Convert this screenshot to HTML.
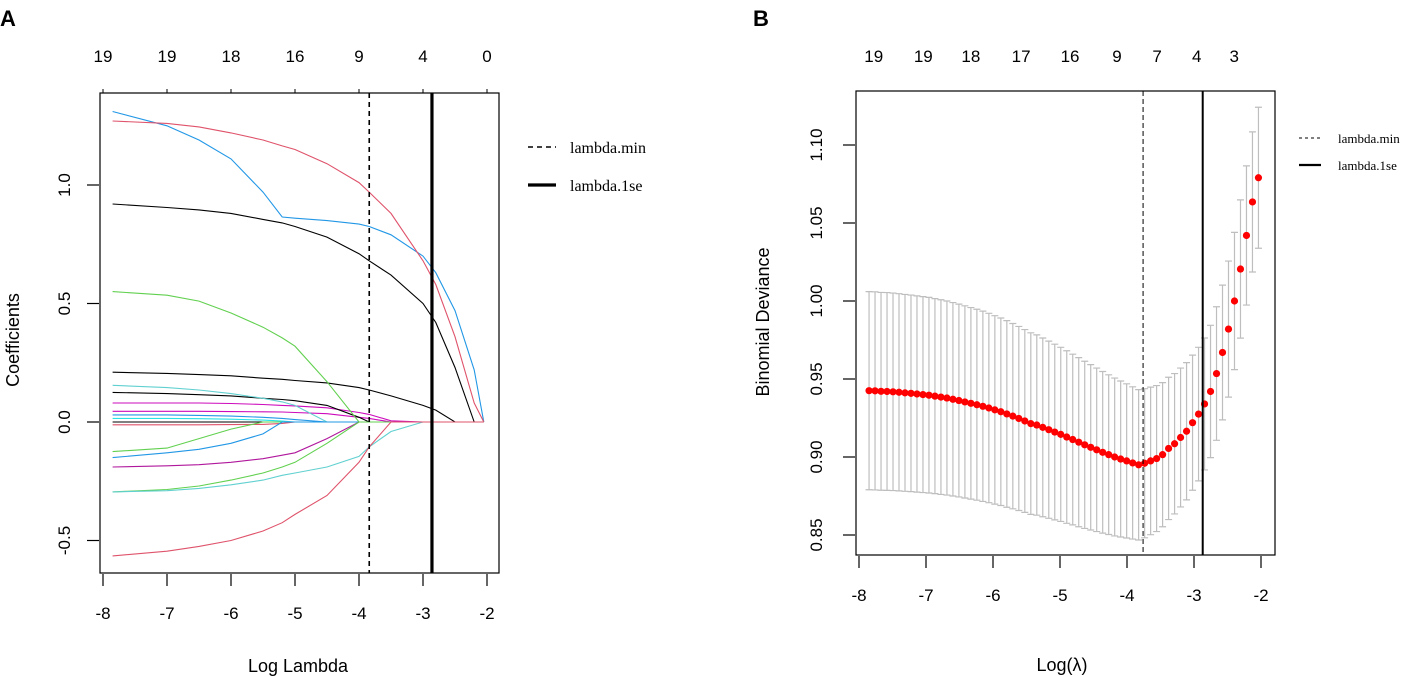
<!DOCTYPE html>
<html><head><meta charset="utf-8"><style>
html,body{margin:0;padding:0;background:#fff;}
svg{display:block;font-family:"Liberation Sans",Arial,sans-serif;}
</style></head><body>
<svg id="chart" width="1418" height="677" viewBox="0 0 1418 677" xmlns="http://www.w3.org/2000/svg">
<text x="0" y="26" font-size="22" font-weight="bold">A</text>
<text x="753" y="26" font-size="22" font-weight="bold">B</text>
<g id="pa"></g>
<g id="pb"></g>
</svg>
<script>
// ---------- Panel A data ----------
const pathLambda = [-7.85,-7,-6.5,-6,-5.5,-5.2,-5,-4.5,-4,-3.84,-3.5,-3,-2.8,-2.5,-2.2,-2.05];
const pathRed1   = [1.27,1.26,1.245,1.22,1.19,1.165,1.15,1.09,1.01,0.97,0.88,0.68,0.58,0.36,0.08,0];
const pathBlue1  = [1.31,1.25,1.19,1.11,0.97,0.865,0.86,0.85,0.835,0.825,0.79,0.70,0.63,0.47,0.22,0];
const pathBlack1 = [0.92,0.905,0.895,0.88,0.855,0.84,0.825,0.78,0.71,0.68,0.62,0.50,0.42,0.23,0,0];
const pathGreen1 = [0.55,0.535,0.51,0.46,0.40,0.355,0.32,0.17,0,0,0,0,0,0,0,0];
const pathBlack2 = [0.21,0.205,0.2,0.195,0.185,0.18,0.175,0.165,0.145,0.135,0.11,0.07,0.05,0,0,0];
const pathCyan1  = [0.155,0.145,0.135,0.12,0.10,0.085,0.07,0,0,0,0,0,0,0,0,0];
const pathBlack3 = [0.125,0.12,0.115,0.11,0.10,0.095,0.09,0.07,0.02,0,0,0,0,0,0,0];
const pathMag1   = [0.08,0.08,0.08,0.078,0.074,0.07,0.068,0.06,0.04,0.032,0.005,0,0,0,0,0];
const pathMag2   = [0.045,0.045,0.045,0.044,0.043,0.042,0.04,0.035,0.02,0.015,0,0,0,0,0,0];
const pathBlue2  = [0.03,0.03,0.028,0.025,0.02,0.015,0.01,0,0,0,0,0,0,0,0,0];
const pathCyan2  = [0.015,0.015,0.014,0.012,0.008,0.004,0,0,0,0,0,0,0,0,0,0];
const pathRed2   = [-0.012,-0.012,-0.012,-0.011,-0.01,-0.006,0,0,0,0,0,0,0,0,0,0];
const pathGreen2 = [-0.125,-0.11,-0.07,-0.03,0,0,0,0,0,0,0,0,0,0,0,0];
const pathBlue3  = [-0.15,-0.13,-0.115,-0.09,-0.05,0,0,0,0,0,0,0,0,0,0,0];
const pathMag3   = [-0.19,-0.185,-0.18,-0.17,-0.155,-0.14,-0.13,-0.07,0,0,0,0,0,0,0,0];
const pathGreen3 = [-0.295,-0.285,-0.27,-0.245,-0.215,-0.19,-0.17,-0.09,0,0,0,0,0,0,0,0];
const pathCyan3  = [-0.295,-0.29,-0.28,-0.265,-0.245,-0.225,-0.215,-0.19,-0.145,-0.105,-0.04,0,0,0,0,0];
const pathRed3   = [-0.565,-0.545,-0.525,-0.5,-0.46,-0.425,-0.39,-0.31,-0.17,-0.105,0,0,0,0,0,0];
const pathBlack0 = [0,0,0,0,0,0,0,0,0,0,0,0,0,0,0,0];
const aXTicks = [-8,-7,-6,-5,-4,-3,-2];
const aYTicks = [-0.5,0,0.5,1];
const aYTickLabels = ["-0.5","0.0","0.5","1.0"];
const aTopCounts = [19,19,18,16,9,4,0];
const aLambdaMin = -3.84, aLambda1se = -2.86;

// ---------- Panel B data ----------
const cvLambdaStart = -7.85, cvLambdaEnd = -2.038;
const cvMean = [.9425,.9424,.9421,.9420,.9418,.9415,.9411,.9408,.9404,.9400,.9396,.9390,.9384,.9378,.9370,.9362,.9353,.9344,.9335,.9325,.9314,.9302,.9290,.9276,.9262,.9247,.9231,.9214,.9205,.9190,.9175,.9160,.9145,.9128,.9112,.9095,.9078,.9062,.9046,.9030,.9015,.9000,.8987,.8975,.8962,.8950,.8960,.8975,.8990,.9015,.9055,.9085,.9125,.9165,.9220,.9275,.9340,.9420,.9535,.9670,.9820,1.0000,1.0205,1.0420,1.0635,1.0790];
const cvSE = [.0635,.0635,.0634,.0634,.0633,.0632,.0631,.0630,.0629,.0628,.0627,.0625,.0624,.0622,.0620,.0618,.0616,.0614,.0612,.0610,.0607,.0604,.0601,.0598,.0594,.0590,.0586,.0582,.0578,.0573,.0568,.0563,.0558,.0553,.0547,.0542,.0536,.0530,.0524,.0518,.0512,.0506,.0500,.0494,.0488,.0482,.0478,.0473,.0468,.0462,.0456,.0450,.0445,.0440,.0433,.0428,.0423,.0424,.0428,.0432,.0436,.0440,.0443,.0446,.0449,.0452];
const bXTicks = [-8,-7,-6,-5,-4,-3,-2];
const bYTicks = [0.85,0.90,0.95,1.00,1.05,1.10];
const bYTickLabels = ["0.85","0.90","0.95","1.00","1.05","1.10"];
const bTopLambda = [-7.78,-7.04,-6.33,-5.58,-4.85,-4.15,-3.55,-2.96,-2.40];
const bTopCounts = [19,19,18,17,16,9,7,4,3];
const bLambdaMin = -3.76, bLambda1se = -2.87;

const NS = "http://www.w3.org/2000/svg";
function mk(parent, tag, attrs, text){
  const e = document.createElementNS(NS, tag);
  for (const k in attrs) e.setAttribute(k, attrs[k]);
  if (text !== undefined) e.textContent = text;
  parent.appendChild(e);
  return e;
}

// ---------- Panel A ----------
(function(){
  const g = document.getElementById('pa');
  const L=100,R=499,T=93,B=573;
  const xA = v => 103 + (v + 8) * 64;
  const yA = v => 422 - v * 237;
  const series = [
    [pathBlack0,'#000000'],[pathRed2,'#DF536B'],[pathCyan2,'#28E2E5'],[pathBlue2,'#2297E6'],
    [pathMag2,'#CD0BBC'],[pathMag1,'#CD0BBC'],[pathBlack3,'#000000'],[pathCyan1,'#61D0D0'],
    [pathBlack2,'#000000'],[pathGreen1,'#61D04F'],[pathBlack1,'#000000'],[pathBlue1,'#2297E6'],
    [pathRed1,'#DF536B'],[pathGreen2,'#61D04F'],[pathBlue3,'#2297E6'],[pathMag3,'#B0179C'],
    [pathGreen3,'#61D04F'],[pathCyan3,'#61D0D0'],[pathRed3,'#DF536B']
  ];
  series.forEach((s,i)=>{
    const d = s[0].map((v,j)=>(j?'L':'M')+xA(pathLambda[j]).toFixed(1)+','+yA(v).toFixed(1)).join(' ');
    const p = mk(g,'path',{d:d,fill:'none',stroke:s[1],'stroke-width':1.1});
    
    
  });
  const vm = mk(g,'line',{x1:xA(aLambdaMin),x2:xA(aLambdaMin),y1:T,y2:B,stroke:'#000','stroke-width':1.6,'stroke-dasharray':'5,4'});
  
  
  const v1 = mk(g,'line',{x1:xA(aLambda1se),x2:xA(aLambda1se),y1:T,y2:B,stroke:'#000','stroke-width':3.2});
  
  
  const box = mk(g,'rect',{x:L,y:T,width:R-L,height:B-T,fill:'none',stroke:'#000','stroke-width':1.2});
  
  
  aXTicks.forEach((t,i)=>{
    mk(g,'line',{x1:xA(t),x2:xA(t),y1:B+1,y2:B+13,stroke:'#000','stroke-width':1.2});
    const tl = mk(g,'text',{x:xA(t),y:619,'font-size':17,'text-anchor':'middle'},String(t));
    
    
    mk(g,'line',{x1:xA(t),x2:xA(t),y1:T,y2:T-4,stroke:'#000','stroke-width':1});
    const tc = mk(g,'text',{x:xA(t),y:62,'font-size':17,'text-anchor':'middle'},String(aTopCounts[i]));
    
    
  });
  aYTicks.forEach((t,i)=>{
    mk(g,'line',{x1:L-13,x2:L-1,y1:yA(t),y2:yA(t),stroke:'#000','stroke-width':1.2});
    const yl = mk(g,'text',{x:0,y:0,'font-size':17,'text-anchor':'middle',transform:`translate(70,${yA(t)}) rotate(-90)`},aYTickLabels[i]);
    
    
  });
  const xt = mk(g,'text',{x:298,y:672,'font-size':18,'text-anchor':'middle'},'Log Lambda');
  
  
  const yt = mk(g,'text',{x:0,y:0,'font-size':18,'text-anchor':'middle',transform:'translate(19,340) rotate(-90)'},'Coefficients');
  
  
  const lg = mk(g,'g',{});
  
  
  mk(lg,'line',{x1:528,x2:556,y1:147,y2:147,stroke:'#000','stroke-width':1.6,'stroke-dasharray':'5,4'});
  mk(lg,'text',{x:570,y:153,'font-size':16,'font-family':'Liberation Serif, serif'},'lambda.min');
  mk(lg,'line',{x1:528,x2:556,y1:185,y2:185,stroke:'#000','stroke-width':3.2});
  mk(lg,'text',{x:570,y:191,'font-size':16,'font-family':'Liberation Serif, serif'},'lambda.1se');
})();

// ---------- Panel B ----------
(function(){
  const g = document.getElementById('pb');
  const L=856,R=1275,T=91,B=555;
  const xB = v => 859 + (v + 8) * 67;
  const yB = v => 145 + (1.10 - v) / 0.05 * 78;
  const n = cvMean.length;
  const step = (cvLambdaEnd - cvLambdaStart) / (n - 1);
  for (let i=0;i<n;i++){
    const lam = cvLambdaStart + i*step;
    const x = xB(lam), yu = yB(cvMean[i]+cvSE[i]), yl = yB(cvMean[i]-cvSE[i]);
    const eb = mk(g,'path',{d:`M${x},${yu} L${x},${yl} M${x-3.5},${yu} L${x+3.5},${yu} M${x-3.5},${yl} L${x+3.5},${yl}`,stroke:'#BEBEBE','stroke-width':1.2,fill:'none'});
    
    
  }
  for (let i=0;i<n;i++){
    const lam = cvLambdaStart + i*step;
    const c = mk(g,'circle',{cx:xB(lam),cy:yB(cvMean[i]),r:3.6,fill:'#FF0000'});
    
    
  }
  const vm = mk(g,'line',{x1:xB(bLambdaMin),x2:xB(bLambdaMin),y1:T,y2:B,stroke:'#000','stroke-width':1,'stroke-dasharray':'5,3'});
  
  
  const v1 = mk(g,'line',{x1:xB(bLambda1se),x2:xB(bLambda1se),y1:T,y2:B,stroke:'#000','stroke-width':2});
  
  
  const box = mk(g,'rect',{x:L,y:T,width:R-L,height:B-T,fill:'none',stroke:'#000','stroke-width':1.2});
  
  
  bXTicks.forEach(t=>{
    mk(g,'line',{x1:xB(t),x2:xB(t),y1:B+1,y2:B+13,stroke:'#000','stroke-width':1.2});
    const tl = mk(g,'text',{x:xB(t),y:601,'font-size':17,'text-anchor':'middle'},String(t));
    
    
  });
  bTopLambda.forEach((t,i)=>{
    const tc = mk(g,'text',{x:xB(t),y:62,'font-size':17,'text-anchor':'middle'},String(bTopCounts[i]));
    
    
  });
  bYTicks.forEach((t,i)=>{
    mk(g,'line',{x1:L-13,x2:L-1,y1:yB(t),y2:yB(t),stroke:'#000','stroke-width':1.2});
    const yl = mk(g,'text',{x:0,y:0,'font-size':17,'text-anchor':'middle',transform:`translate(822,${yB(t)}) rotate(-90)`},bYTickLabels[i]);
    
    
  });
  const xt = mk(g,'text',{x:1062,y:671,'font-size':18,'text-anchor':'middle'},'Log(λ)');
  
  
  const yt = mk(g,'text',{x:0,y:0,'font-size':18,'text-anchor':'middle',transform:'translate(769,322) rotate(-90)'},'Binomial Deviance');
  
  
  const lg = mk(g,'g',{});
  
  
  mk(lg,'line',{x1:1299,x2:1321,y1:138,y2:138,stroke:'#000','stroke-width':1,'stroke-dasharray':'3,3'});
  mk(lg,'text',{x:1338,y:143,'font-size':13,'font-family':'Liberation Serif, serif'},'lambda.min');
  mk(lg,'line',{x1:1299,x2:1321,y1:165,y2:165,stroke:'#000','stroke-width':2.2});
  mk(lg,'text',{x:1338,y:170,'font-size':13,'font-family':'Liberation Serif, serif'},'lambda.1se');
})();
</script>
</body></html>
